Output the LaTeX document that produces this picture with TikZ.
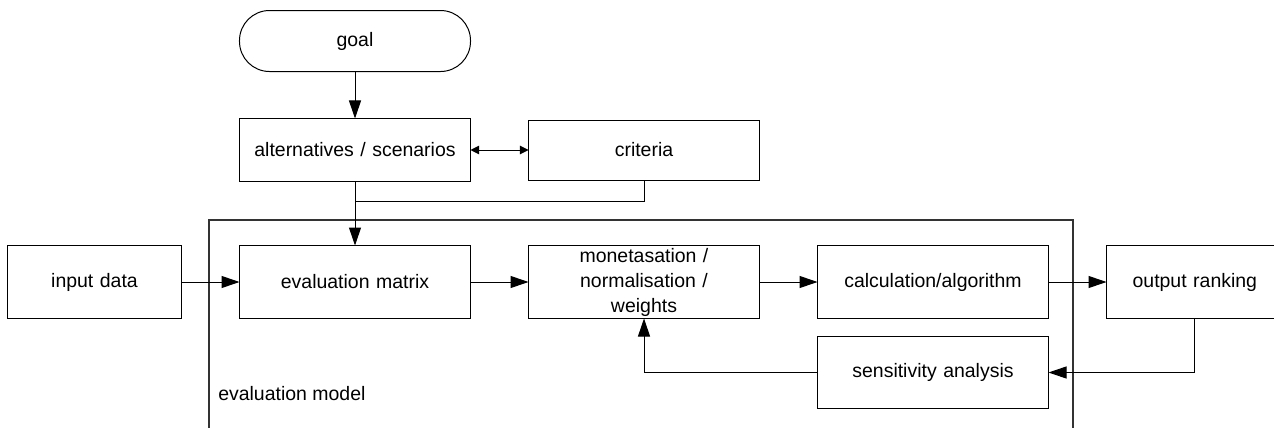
\documentclass[tikz,border=0pt]{standalone}
\usepackage{fontspec}
\setmainfont{Liberation Sans}
\usetikzlibrary{matrix,positioning,arrows.meta}
\tikzset{blk/.style={draw, line width=0.75pt, inner sep=0pt, outer sep=0pt, anchor=center,
    text width=173.25pt, align=center, font=\fontsize{14.6pt}{18.75pt}\selectfont}}
\tikzset{sidebox/.style={blk, text width=130.5pt}}
\tikzset{goalbox/.style={blk, rounded corners=22.5pt, minimum height=45.75pt}}
\tikzset{arr/.style={line width=0.75pt, -{Triangle[length=13.5pt,width=9pt]}}}
\tikzset{dblarr/.style={{Triangle[length=6.5pt,width=6.5pt]}-{Triangle[length=6.5pt,width=6.5pt]}}}
\tikzset{frame/.style={draw=black!80, line width=1pt}}
\tikzset{lbl/.style={inner sep=0pt, font=\fontsize{14.6pt}{18.75pt}\selectfont}}

\begin{document}
\begin{tikzpicture}[x=0.75pt,y=-0.75pt]
  \useasboundingbox (0,0) rectangle (1274,428);
  % the evaluation model, open at the bottom
  \draw[frame] (209,434) |- (1073,220) -- (1073,434);
  \node[lbl, anchor=west] (evalmodel) at (218,394) {evaluation model};
  \matrix (m) [matrix of nodes, anchor=north west, inner sep=0pt, outer sep=0pt,
               row sep=0pt, column sep=42.75pt, nodes={blk}] at (7,10)
  {
    & |[goalbox]| goal \\[34.5pt]
    & |[minimum height=47.25pt]| alternatives / scenarios & |[minimum height=45pt]| criteria \\[47.25pt]
    |[sidebox, minimum height=54.75pt]| input data & |[minimum height=54.75pt]| evaluation matrix
    & |[minimum height=54.75pt]| {monetasation /\\normalisation /\\weights}
    & |[minimum height=54.75pt]| calculation/algorithm & |[sidebox, text width=132.5pt, minimum height=54.75pt]| output ranking \\[12.75pt]
    & & & |[minimum height=54pt]| sensitivity analysis \\
  };
  \coordinate (join) at ([yshift=-15pt]m-2-2.south);
  \path[arr]
  (m-1-2) edge (m-2-2)
  (m-2-2) edge [dblarr] (m-2-3)
  (m-2-2) edge (m-3-2)
  (m-3-1) edge (m-3-2)
  (m-3-2) edge (m-3-3)
  (m-3-3) edge (m-3-4)
  (m-3-4) edge (m-3-5)
  (m-3-5.south) edge [to path={|- (\tikztotarget)}] (m-4-4.east)
  (m-4-4.west) edge [to path={-| (\tikztotarget)}] (m-3-3.south);
  \path[line width=0.75pt] (m-2-3.south) edge [to path={|- (\tikztotarget)}] (join);
\end{tikzpicture}
\end{document}
